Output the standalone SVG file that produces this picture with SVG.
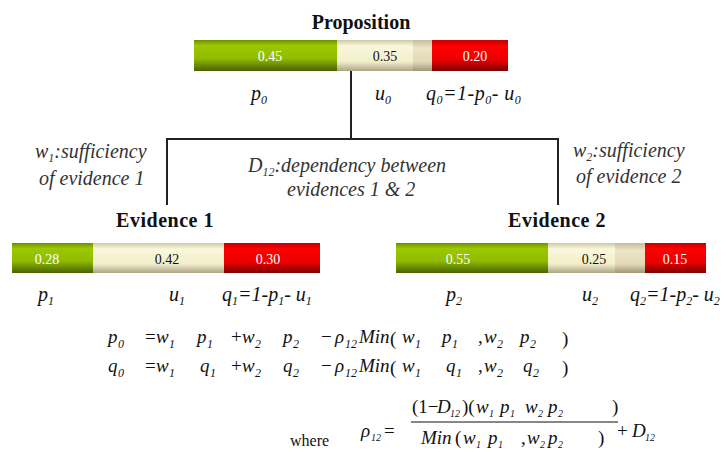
<svg xmlns="http://www.w3.org/2000/svg" width="726" height="452" viewBox="0 0 726 452" font-family="'Liberation Serif', 'Times New Roman', serif">
<defs>
<linearGradient id="gG" x1="0" y1="0" x2="0" y2="1">
<stop offset="0" stop-color="#6f8e00"/><stop offset="0.18" stop-color="#9cc800"/><stop offset="0.6" stop-color="#90bb00"/><stop offset="1" stop-color="#4a6200"/>
</linearGradient>
<linearGradient id="gB" x1="0" y1="0" x2="0" y2="1">
<stop offset="0" stop-color="#cfc8a6"/><stop offset="0.2" stop-color="#faf8dc"/><stop offset="0.7" stop-color="#f2eecb"/><stop offset="1" stop-color="#aca486"/>
</linearGradient>
<linearGradient id="gD" x1="0" y1="0" x2="0" y2="1">
<stop offset="0" stop-color="#c4bc9c"/><stop offset="0.25" stop-color="#ece4c6"/><stop offset="0.7" stop-color="#e2d9b8"/><stop offset="1" stop-color="#a0967a"/>
</linearGradient>
<linearGradient id="gR" x1="0" y1="0" x2="0" y2="1">
<stop offset="0" stop-color="#c40000"/><stop offset="0.2" stop-color="#ff0000"/><stop offset="0.65" stop-color="#ea0000"/><stop offset="1" stop-color="#7c0000"/>
</linearGradient>
</defs>
<style>
text{font-family:"Liberation Serif","Times New Roman",serif;}
.title{font-size:20px;font-weight:700;fill:#111;}
.val{font-size:14px;text-anchor:middle;}
.w{fill:#ffffff;}
.k{fill:#111;}
.lab{font-size:20px;font-style:italic;fill:#111;}
.note{font-size:20px;font-style:italic;fill:#333;}
.eq{font-size:19px;font-style:italic;fill:#111;}
.rm{font-style:normal;}
.sub{font-size:12px;}
.s9{font-size:10px;}
.conn{stroke:#222;stroke-width:2;fill:none;}
</style>

<g id="connectors">
<line class="conn" x1="351" y1="71" x2="351" y2="139"/>
<polyline class="conn" points="167,205 167,139 558,139 558,205"/>
</g>

<g id="proposition">
<text class="title" x="361" y="29" text-anchor="middle">Proposition</text>
<rect x="194" y="40" width="143" height="31" fill="url(#gG)"/>
<rect x="337" y="40" width="76" height="31" fill="url(#gB)"/>
<rect x="413" y="40" width="19" height="31" fill="url(#gD)"/>
<rect x="432" y="40" width="76" height="31" fill="url(#gR)"/>
<text class="val w" x="270" y="61">0.45</text>
<text class="val k" x="385" y="61">0.35</text>
<text class="val w" x="475" y="61">0.20</text>
<text class="lab" x="251" y="100">p<tspan class="sub" dy="4">0</tspan></text>
<text class="lab" x="375" y="100">u<tspan class="sub" dy="4">0</tspan></text>
<text class="lab" x="426" y="100" letter-spacing="0.5">q<tspan class="sub" dy="4">0</tspan><tspan dy="-4">=</tspan><tspan>1-p</tspan><tspan class="sub" dy="4">0</tspan><tspan dy="-4">- u</tspan><tspan class="sub" dy="4">0</tspan></text>
</g>

<g id="notes">
<text class="note" x="35" y="158">w<tspan class="sub" dy="4">1</tspan><tspan dy="-4">:sufficiency</tspan></text>
<text class="note" x="39" y="185">of evidence 1</text>
<text class="note" x="248" y="172">D<tspan class="sub" dy="4">12</tspan><tspan dy="-4">:dependency between</tspan></text>
<text class="note" x="287" y="196">evidences 1 &amp; 2</text>
<text class="note" x="573" y="157">w<tspan class="sub" dy="4">2</tspan><tspan dy="-4">:sufficiency</tspan></text>
<text class="note" x="576" y="183">of evidence 2</text>
</g>

<g id="evidence1">
<text class="title" x="165" y="227" text-anchor="middle" letter-spacing="0.5">Evidence 1</text>
<rect x="12" y="243" width="81" height="30" fill="url(#gG)"/>
<rect x="93" y="243" width="131" height="30" fill="url(#gB)"/>
<rect x="224" y="243" width="96" height="30" fill="url(#gR)"/>
<text class="val w" x="47" y="264">0.28</text>
<text class="val k" x="167" y="264">0.42</text>
<text class="val w" x="268" y="264">0.30</text>
<text class="lab" x="38" y="301">p<tspan class="sub" dy="4">1</tspan></text>
<text class="lab" x="169" y="301">u<tspan class="sub" dy="4">1</tspan></text>
<text class="lab" x="222" y="301">q<tspan class="sub" dy="4">1</tspan><tspan dy="-4">=</tspan><tspan>1-p</tspan><tspan class="sub" dy="4">1</tspan><tspan dy="-4">- u</tspan><tspan class="sub" dy="4">1</tspan></text>
</g>

<g id="evidence2">
<text class="title" x="557" y="227" text-anchor="middle" letter-spacing="0.5">Evidence 2</text>
<rect x="396" y="243" width="152" height="30" fill="url(#gG)"/>
<rect x="548" y="243" width="67" height="30" fill="url(#gB)"/>
<rect x="615" y="243" width="30" height="30" fill="url(#gD)"/>
<rect x="645" y="243" width="61" height="30" fill="url(#gR)"/>
<text class="val w" x="458" y="264">0.55</text>
<text class="val k" x="594" y="264">0.25</text>
<text class="val w" x="675" y="264">0.15</text>
<text class="lab" x="446" y="301">p<tspan class="sub" dy="4">2</tspan></text>
<text class="lab" x="582" y="301">u<tspan class="sub" dy="4">2</tspan></text>
<text class="lab" x="630" y="301">q<tspan class="sub" dy="4">2</tspan><tspan dy="-4">=</tspan><tspan>1-p</tspan><tspan class="sub" dy="4">2</tspan><tspan dy="-4">- u</tspan><tspan class="sub" dy="4">2</tspan></text>
</g>

<g id="equations">
<!-- line 1 -->
<text class="eq" y="343"><tspan x="108">p</tspan><tspan x="145" class="rm">=</tspan><tspan x="156">w</tspan><tspan x="197">p</tspan><tspan x="231" class="rm">+</tspan><tspan x="242">w</tspan><tspan x="283">p</tspan><tspan x="321" class="rm">−</tspan><tspan x="335">ρ</tspan><tspan x="359">Min</tspan><tspan x="402">w</tspan><tspan x="442">p</tspan><tspan x="478" class="rm">,</tspan><tspan x="484">w</tspan><tspan x="520">p</tspan></text>
<text class="eq sub" y="348"><tspan x="118">0</tspan><tspan x="169">1</tspan><tspan x="207">1</tspan><tspan x="255">2</tspan><tspan x="293">2</tspan><tspan x="345">12</tspan><tspan x="415">1</tspan><tspan x="452">1</tspan><tspan x="497">2</tspan><tspan x="530">2</tspan></text>
<text class="eq rm" y="345" font-size="23"><tspan x="390">(</tspan><tspan x="562">)</tspan></text>
<!-- line 2 -->
<text class="eq" y="372"><tspan x="108">q</tspan><tspan x="145" class="rm">=</tspan><tspan x="156">w</tspan><tspan x="200">q</tspan><tspan x="231" class="rm">+</tspan><tspan x="242">w</tspan><tspan x="283">q</tspan><tspan x="321" class="rm">−</tspan><tspan x="335">ρ</tspan><tspan x="359">Min</tspan><tspan x="402">w</tspan><tspan x="446">q</tspan><tspan x="478" class="rm">,</tspan><tspan x="484">w</tspan><tspan x="523">q</tspan></text>
<text class="eq sub" y="377"><tspan x="118">0</tspan><tspan x="169">1</tspan><tspan x="210">1</tspan><tspan x="255">2</tspan><tspan x="293">2</tspan><tspan x="345">12</tspan><tspan x="415">1</tspan><tspan x="456">1</tspan><tspan x="497">2</tspan><tspan x="533">2</tspan></text>
<text class="eq rm" y="374" font-size="23"><tspan x="390">(</tspan><tspan x="562">)</tspan></text>
<!-- line 3 -->
<text x="290" y="446" font-size="16" fill="#111">where</text>
<text class="eq" y="437"><tspan x="361">ρ</tspan><tspan x="384" class="rm">=</tspan><tspan x="632">D</tspan></text>
<text class="eq s9" y="441"><tspan x="371">12</tspan><tspan x="645">12</tspan></text>
<text class="eq rm" x="617" y="437">+</text>
<line x1="411" y1="422" x2="618" y2="422" stroke="#111" stroke-width="1.2"/>
<text class="eq" y="413"><tspan x="412" class="rm">(1−</tspan><tspan x="437">D</tspan><tspan x="462" class="rm">)(</tspan><tspan x="476">w</tspan><tspan x="500">p</tspan><tspan x="525">w</tspan><tspan x="548">p</tspan><tspan x="612" class="rm">)</tspan></text>
<text class="eq s9" y="417"><tspan x="450">12</tspan><tspan x="489">1</tspan><tspan x="510">1</tspan><tspan x="538">2</tspan><tspan x="558">2</tspan></text>
<text class="eq" y="444"><tspan x="421">Min</tspan><tspan x="455" class="rm">(</tspan><tspan x="463">w</tspan><tspan x="488">p</tspan><tspan x="521" class="rm">,</tspan><tspan x="527">w</tspan><tspan x="548">p</tspan><tspan x="598" class="rm">)</tspan></text>
<text class="eq s9" y="448"><tspan x="476">1</tspan><tspan x="498">1</tspan><tspan x="540">2</tspan><tspan x="558">2</tspan></text>
</g>
</svg>
